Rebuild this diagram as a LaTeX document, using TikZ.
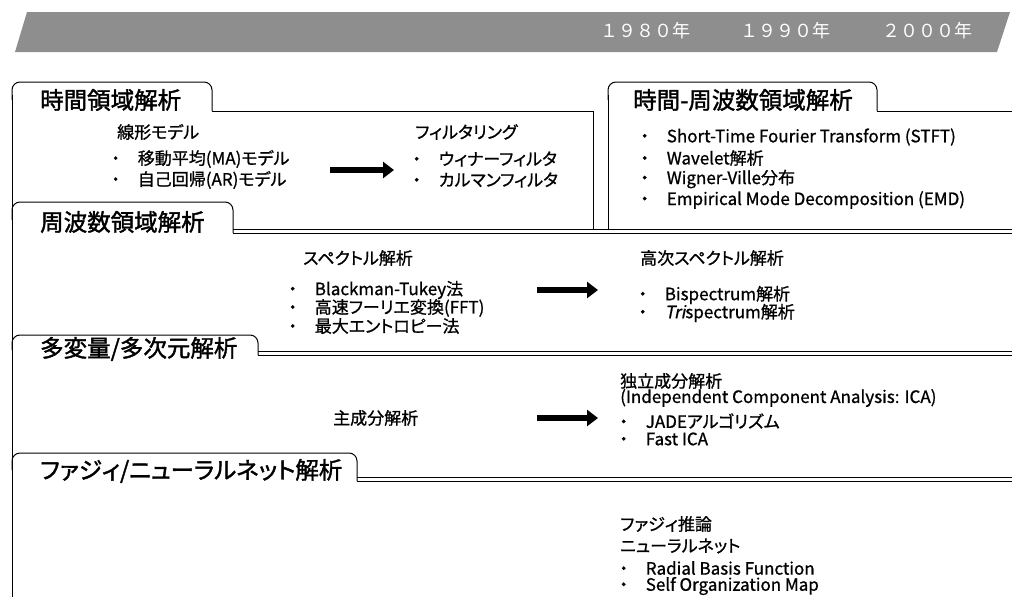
\documentclass[tikz,border=0pt]{standalone}
\usepackage{fontspec}
\setmainfont{Noto Sans CJK JP}
\newfontfamily\hdrfont{Noto Sans CJK JP}[FakeBold=1.6,RawFeature=+palt]
\newfontfamily\bodyfont{Noto Sans CJK JP}[FakeBold=0.9,RawFeature=+palt,AutoFakeSlant=0.2]
\newfontfamily\yrfont{Noto Sans CJK JP}
\usetikzlibrary{arrows.meta}
\definecolor{bannergray}{RGB}{142,142,142}
\newcommand{\bulitem}[1]{\makebox[1.8em][l]{\makebox[1em][c]{・}}#1}
\tikzset{
  boxline/.style={line width=1pt, draw=black},
  hdr/.style={anchor=west, inner sep=0pt, font=\hdrfont\fontsize{23.5}{23.5}\selectfont},
  txt/.style={anchor=west, inner sep=0pt, font=\bodyfont\fontsize{17}{17}\selectfont},
  yr/.style={anchor=west, inner sep=0pt, text=white, font=\yrfont\fontsize{18}{18}\selectfont},
  bigarrow/.style={line width=5.5pt, -{Triangle[length=11pt,width=16pt]}},
}
\begin{document}
\begin{tikzpicture}[x=1pt,y=-1pt]
\useasboundingbox (0,0) rectangle (1012,597);
% banner
\fill[bannergray] (15,52) -- (27,12) -- (1010,12) -- (997,52) -- cycle;
\node[yr] (y1980) at (600,31) {１９８０年};
\node[yr] (y1990) at (740,31) {１９９０年};
\node[yr] (y2000) at (882,31) {２０００年};

% left edge
\draw[boxline] (12,95) -- (12,597);
% box A
\draw[boxline,rounded corners=8] (212,111) -- (212,82) -- (12,82) -- (12,100);
\draw[boxline] (212,111) -- (593,111) -- (593,229);
% box B
\draw[boxline,rounded corners=8] (877,111) -- (877,82) -- (608,82) -- (608,100);
\draw[boxline] (608,95) -- (608,229);
\draw[boxline] (877,111) -- (1012,111);
% box C
\draw[boxline,rounded corners=8] (233,233) -- (233,202) -- (12,202) -- (12,220);
\draw[boxline] (233,229) -- (1012,229);
\draw[boxline] (233,233) -- (1012,233);
% box D
\draw[boxline,rounded corners=8] (258,355) -- (258,335) -- (12,335) -- (12,350);
\draw[boxline] (258,351) -- (1012,351);
\draw[boxline] (258,355) -- (1012,355);
% box E
\draw[boxline,rounded corners=8] (357,481) -- (357,453) -- (12,453) -- (12,470);
\draw[boxline] (357,477) -- (1012,477);
\draw[boxline] (357,481) -- (1012,481);

% headers
\node[hdr] (hA) at (40,100) {時間領域解析};
\node[hdr] (hB) at (633,100) {時間-周波数領域解析};
\node[hdr] (hC) at (40,222) {周波数領域解析};
\node[hdr] (hD) at (40,349) {多変量/多次元解析};
\node[hdr] (hE) at (40,471) {ファジィ/ニューラルネット解析};

% box A content
\node[txt] (lin) at (117,132) {線形モデル};
\node[txt] (ma) at (107,159) {\bulitem{移動平均(MA)モデル}};
\node[txt] (ar) at (107,180) {\bulitem{自己回帰(AR)モデル}};
\node[txt] (filt) at (415,132) {フィルタリング};
\node[txt] (wien) at (408,159) {\bulitem{ウィナーフィルタ}};
\node[txt] (kal) at (408,180) {\bulitem{カルマンフィルタ}};
\coordinate (aAs) at (330,170);
\coordinate (aAe) at (394,170);
\draw[bigarrow] (aAs) -- (aAe);

% box B content
\node[txt] (stft) at (636,137) {\bulitem{Short-Time Fourier Transform (STFT)}};
\node[txt] (wav) at (636,158) {\bulitem{Wavelet解析}};
\node[txt] (wig) at (636,179) {\bulitem{Wigner-Ville分布}};
\node[txt] (emd) at (636,200) {\bulitem{Empirical Mode Decomposition (EMD)}};

% box C content
\node[txt] (spec) at (303,258) {スペクトル解析};
\node[txt] (bt) at (284,290) {\bulitem{Blackman-Tukey法}};
\node[txt] (fft) at (284,308) {\bulitem{高速フーリエ変換(FFT)}};
\node[txt] (mem) at (284,326) {\bulitem{最大エントロピー法}};
\node[txt] (hos) at (640,258) {高次スペクトル解析};
\node[txt] (bis) at (634,295) {\bulitem{Bispectrum解析}};
\node[txt] (tris) at (634,313) {\bulitem{\itshape Tri\upshape spectrum解析}};
\coordinate (aCs) at (537,290);
\coordinate (aCe) at (598,290);
\draw[bigarrow] (aCs) -- (aCe);

% box D content
\node[txt] (pca) at (333,418) {主成分解析};
\node[txt] (ica) at (620,381) {独立成分解析};
\node[txt] (icaen) at (620,398) {(Independent Component Analysis: ICA)};
\node[txt] (jade) at (615,421) {\bulitem{JADEアルゴリズム}};
\node[txt] (fica) at (615,439) {\bulitem{Fast ICA}};
\coordinate (aDs) at (537,418);
\coordinate (aDe) at (598,418);
\draw[bigarrow] (aDs) -- (aDe);

% box E content
\node[txt] (fuzzy) at (620,524) {ファジィ推論};
\node[txt] (nn) at (620,546) {ニューラルネット};
\node[txt] (rbf) at (615,568) {\bulitem{Radial Basis Function}};
\node[txt] (som) at (615,586) {\bulitem{Self Organization Map}};
\end{tikzpicture}
\end{document}
